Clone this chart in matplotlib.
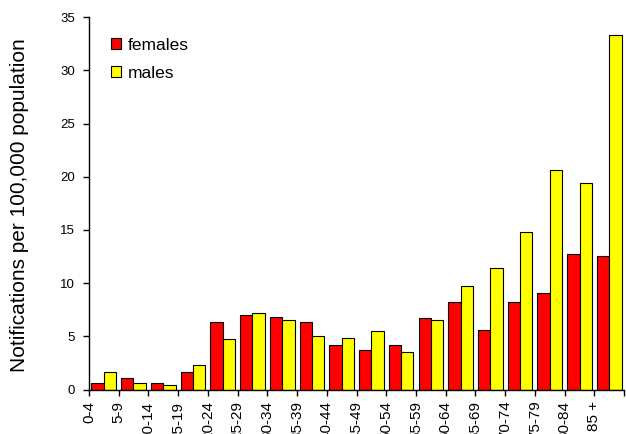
import numpy as np
import matplotlib
matplotlib.use('Agg')
import matplotlib.pyplot as plt

plt.rcParams['font.family'] = ['Liberation Sans', 'DejaVu Sans']

# age groups and rates per 100,000
age_groups = ['0-4', '5-9', '10-14', '15-19', '20-24', '25-29', '30-34', '35-39',
              '40-44', '45-49', '50-54', '55-59', '60-64', '65-69', '70-74',
              '75-79', '80-84', '85 +']
females = [0.63, 1.1, 0.63, 1.6, 6.3, 7.05, 6.8, 6.33, 4.23, 3.67, 4.2, 6.74,
           8.18, 5.61, 8.25, 9.09, 12.7, 12.51]
males = [1.63, 0.6, 0.47, 2.29, 4.73, 7.18, 6.49, 5.05, 4.86, 5.49, 3.57, 6.55,
         9.69, 11.38, 14.83, 20.66, 19.41, 33.3]

x = np.arange(len(age_groups))
w = 0.415

fig = plt.figure(figsize=(6.26, 4.34), dpi=100)
ax = fig.add_axes([0.142, 0.1025, 0.855, 0.858])

ax.bar(x - w/2, females, width=w, color='#ff0000', edgecolor='black',
       linewidth=0.8, label='females')
ax.bar(x + w/2, males, width=w, color='#ffff00', edgecolor='black',
       linewidth=0.8, label='males')

ax.set_xlim(-0.5, len(age_groups) - 0.5)
ax.set_ylim(0, 35)
ax.set_yticks(range(0, 36, 5))
ax.tick_params(axis='y', labelsize=9.5, length=4, width=1, direction='out', pad=6)

# category labels sit on the group boundaries (cut by the bottom edge, as in the original)
ax.set_xticks(x - 0.5)
ax.set_xticklabels(age_groups, rotation=90, fontsize=11, va='top')
ax.set_xticks(np.arange(len(age_groups) + 1) - 0.5, minor=True)
ax.tick_params(axis='x', which='both', length=4, width=1, direction='out', pad=4)

for s in ['top', 'right']:
    ax.spines[s].set_visible(False)
for s in ['left', 'bottom']:
    ax.spines[s].set_linewidth(1)

fig.text(20/626, 1 - 205/434, 'Notifications per 100,000 population',
         rotation=90, ha='center', va='center', fontsize=15)

ax.legend(loc='upper left', bbox_to_anchor=(111/626, 1 - 38/434),
          bbox_transform=fig.transFigure, frameon=False, borderpad=0,
          borderaxespad=0, fontsize=12.5, handlelength=0.6, handleheight=0.6,
          handletextpad=0.35, labelspacing=0.75)

plt.savefig('out.png', dpi=100)
